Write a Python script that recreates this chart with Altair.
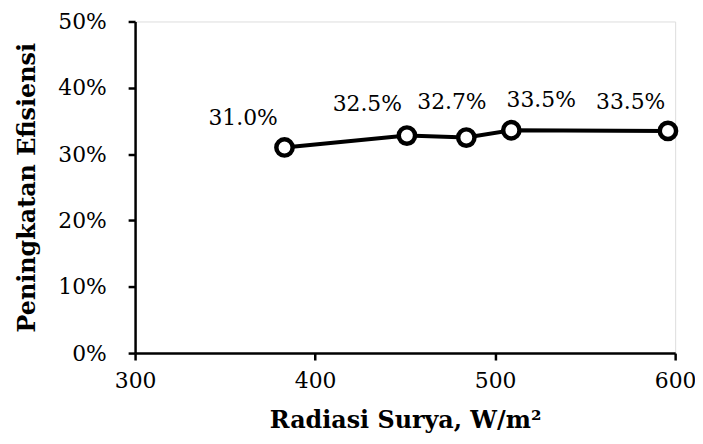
import altair as alt
import pandas as pd

# Data
radiasi = [383, 451, 484, 509, 596]
peningkatan = [0.310, 0.328, 0.325, 0.336, 0.335]

# Annotation texts and their anchor positions (data units)
label_text = ["31.0%", "32.5%", "32.7%", "33.5%", "33.5%"]
label_x = [360, 429, 476, 525.6, 575.3]
label_y = [0.355, 0.376, 0.378, 0.382, 0.378]

x_ticks = [300, 400, 500, 600]
y_ticks = [0, 0.1, 0.2, 0.3, 0.4, 0.5]

df = pd.DataFrame({"x": radiasi, "y": peningkatan})
lab = pd.DataFrame({"x": label_x, "y": label_y, "t": label_text})

FONT = "DejaVu Serif"

xs = alt.Scale(domain=[300, 600], nice=False)
ys = alt.Scale(domain=[0, 0.5], nice=False)

x_axis = alt.Axis(values=x_ticks, title="Radiasi Surya, W/m²", grid=False,
                  labelFont=FONT, labelFontSize=22, labelColor="black",
                  labelFlush=False, labelOverlap=False,
                  titleFont=FONT, titleFontSize=24, titleFontWeight="bold",
                  titleColor="black", domainColor="black", domainWidth=2.5,
                  tickColor="black", tickWidth=2.5, tickSize=7, labelPadding=11,
                  titlePadding=17)
y_axis = alt.Axis(values=y_ticks, format=".0%", title="Peningkatan Efisiensi",
                  grid=False, labelFont=FONT, labelFontSize=22, labelColor="black",
                  labelFlush=False, labelOverlap=False,
                  titleFont=FONT, titleFontSize=24, titleFontWeight="bold",
                  titleColor="black", domainColor="black", domainWidth=2.5,
                  tickColor="black", tickWidth=2.5, tickSize=7, labelPadding=22,
                  titlePadding=18)

line = alt.Chart(df).mark_line(color="black", strokeWidth=4).encode(
    x=alt.X("x:Q", scale=xs, axis=x_axis),
    y=alt.Y("y:Q", scale=ys, axis=y_axis),
)
pts = alt.Chart(df).mark_point(shape="circle", filled=True, fill="white",
                               stroke="black", strokeWidth=4.5, size=270,
                               opacity=1).encode(
    x=alt.X("x:Q", scale=xs),
    y=alt.Y("y:Q", scale=ys),
)
txt = alt.Chart(lab).mark_text(font=FONT, fontSize=22, color="black",
                               align="center", baseline="middle").encode(
    x=alt.X("x:Q", scale=xs),
    y=alt.Y("y:Q", scale=ys),
    text="t:N",
)

chart = alt.layer(line, pts, txt).properties(
    width=544, height=334,
    autosize=alt.AutoSizeParams(type="none"),
    padding={"left": 128, "top": 12, "right": 20, "bottom": 88},
).configure_view(stroke=None).configure(background="white")

chart.save("out.html", embed_options={"renderer": "svg", "actions": False})
